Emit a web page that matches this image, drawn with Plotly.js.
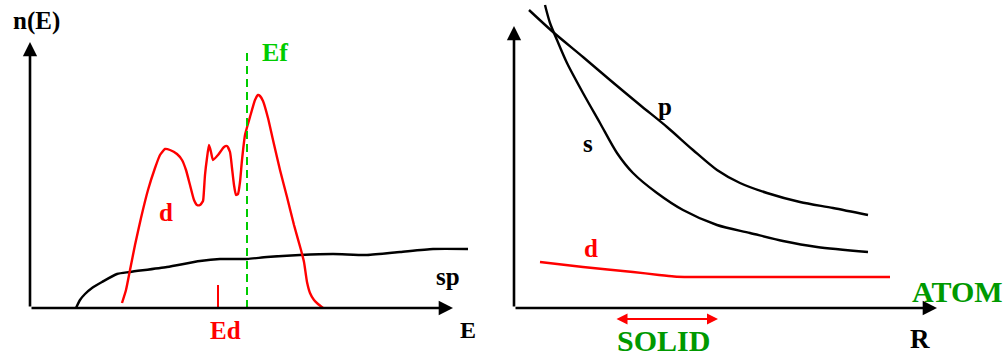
<!DOCTYPE html>
<html>
<head>
<meta charset="utf-8">
<script src="https://cdn.plot.ly/plotly-3.0.1.min.js"></script>
<style>html,body{margin:0;padding:0;background:#fff;}#chart{width:1003px;height:357px;}</style>
</head>
<body>
<div id="chart"></div>
<script>
// Left panel: density of states n(E) vs E (schematic units)
const spE = [46,50,55,62,72,87,100,137,170,190,217,237,270,303,337,370,403,438];
const spN = [0,8,14,20,26,34,36,41,47,49,49,51,53,54,53,56,59,59];
const dE = [92,96,100,105,111,118,125,130,135,140,147,152,156,160,164,167,170,173,174,175,177,179,181,183,188,194,197,200,202,204,206,208,210,212,215,220,225,228,230,233,238,243,250,257,264,271,274,277,280,284,288,293];
const dN = [5,18,38,63,90,118,140,153,159,158,154,148,138,123,108,103,103,107,118,133,150,163,156,148,153,161,162,156,140,123,113,114,126,148,173,191,208,213,212,207,190,168,138,111,83,58,46,26,15,8,4,0];
const EfPos = 217, EfTop = 256;
const EdPos = 188, EdTop = 23;

// Right panel: band energies E vs interatomic distance R
const pR = [15,39,69,96,126,153,179,203,226,253,286,319,354];
const pEn = [298,276,251,228,203,181,158,138,125,115,106,100,93];
const sR = [31,36,43,53,69,86,103,119,143,169,203,236,269,303,354];
const sEn = [303,285,268,245,215,185,155,135,115,98,83,75,67,61,56];
const dR = [26,69,119,145,160,175,253,376];
const dEn = [46,41,36,33,31.5,31,31,31];
const solidRange = [101,204];

const FONT = 'Liberation Serif, Times New Roman, serif';
const RED = '#ff0000', GREEN = '#00cc00', DKGREEN = '#009900';
const LW = 2.4;

const traces = [
  {x: spE, y: spN, xaxis:'x', yaxis:'y', mode:'lines', line:{color:'#000', width:LW, shape:'spline', smoothing:0.6}, hoverinfo:'skip'},
  {x: dE, y: dN, xaxis:'x', yaxis:'y', mode:'lines', line:{color:RED, width:LW, shape:'spline', smoothing:0.5}, hoverinfo:'skip'},
  {x: [EfPos, EfPos], y: [0, EfTop], xaxis:'x', yaxis:'y', mode:'lines', line:{color:GREEN, width:2, dash:'8px,5px'}, hoverinfo:'skip'},
  {x: [EdPos, EdPos], y: [0, EdTop], xaxis:'x', yaxis:'y', mode:'lines', line:{color:RED, width:2}, hoverinfo:'skip'},
  {x: pR, y: pEn, xaxis:'x2', yaxis:'y2', mode:'lines', line:{color:'#000', width:LW, shape:'spline', smoothing:0.8}, hoverinfo:'skip'},
  {x: sR, y: sEn, xaxis:'x2', yaxis:'y2', mode:'lines', line:{color:'#000', width:LW, shape:'spline', smoothing:0.8}, hoverinfo:'skip'},
  {x: dR, y: dEn, xaxis:'x2', yaxis:'y2', mode:'lines', line:{color:RED, width:LW, shape:'spline', smoothing:0.6}, hoverinfo:'skip'}
];

function arrow(xr, yr, x, y, ax, ay, color, side, w) {
  return {xref:xr, yref:yr, axref:xr, ayref:yr, x:x, y:y, ax:ax, ay:ay, text:'', showarrow:true,
          arrowhead:2, arrowsize:1.1, arrowwidth:w || 2.6, arrowcolor:color, standoff:0, startstandoff:0,
          arrowside: side || 'end', startarrowhead:2, startarrowsize:1.1};
}
function label(xr, yr, x, y, txt, size, color, xanchor) {
  return {xref:xr, yref:yr, x:x, y:y, text:'<b>'+txt+'</b>', showarrow:false,
          font:{family:FONT, size:size, color:color}, xanchor: xanchor || 'center', yanchor:'middle'};
}

const annotations = [
  arrow('x','y', 0, 266, 0, 0, '#000'),
  arrow('x','y', 423, 0, 0, 0, '#000'),
  arrow('x2','y2', 0, 282, 0, 0, '#000'),
  arrow('x2','y2', 423, 0, 0, 0, '#000'),
  arrow('x2','y2', solidRange[1], -11, solidRange[0], -11, RED, 'end+start', 2),
  label('x','y', 6, 287, 'n(E)', 25, '#000'),
  label('x','y', 245, 256, 'Ef', 26, GREEN),
  label('x','y', 136, 96, 'd', 25, RED),
  label('x','y', 418, 32, 'sp', 25, '#000'),
  label('x','y', 195, -22, 'Ed', 25, RED),
  label('x','y', 438, -22, 'E', 24, '#000'),
  label('x2','y2', -38, 266, 'E', 29, '#000'),
  label('x2','y2', 151, 202, 'p', 25, '#000'),
  label('x2','y2', 74, 165, 's', 25, '#000'),
  label('x2','y2', 77, 60, 'd', 25, RED),
  label('x2','y2', 396, 17, 'ATOM', 30, DKGREEN, 'left'),
  label('x2','y2', 149, -32, 'SOLID', 30, DKGREEN),
  label('x2','y2', 406, -31, 'R', 27, '#000')
];

const hidden = {visible:false, showgrid:false, zeroline:false, fixedrange:true};
const layout = {
  width:1003, height:357, margin:{l:0,r:0,t:0,b:0},
  paper_bgcolor:'#fff', plot_bgcolor:'#fff', showlegend:false,
  xaxis: Object.assign({domain:[0, 500/1003], range:[-30, 470]}, hidden),
  yaxis: Object.assign({domain:[0,1], range:[-49, 308]}, hidden),
  xaxis2: Object.assign({domain:[500/1003, 1], range:[-14, 489], anchor:'y2'}, hidden),
  yaxis2: Object.assign({domain:[0,1], range:[-49, 308], anchor:'x2'}, hidden),
  annotations: annotations
};
Plotly.newPlot('chart', traces, layout, {staticPlot:true, displayModeBar:false});
</script>
</body>
</html>
